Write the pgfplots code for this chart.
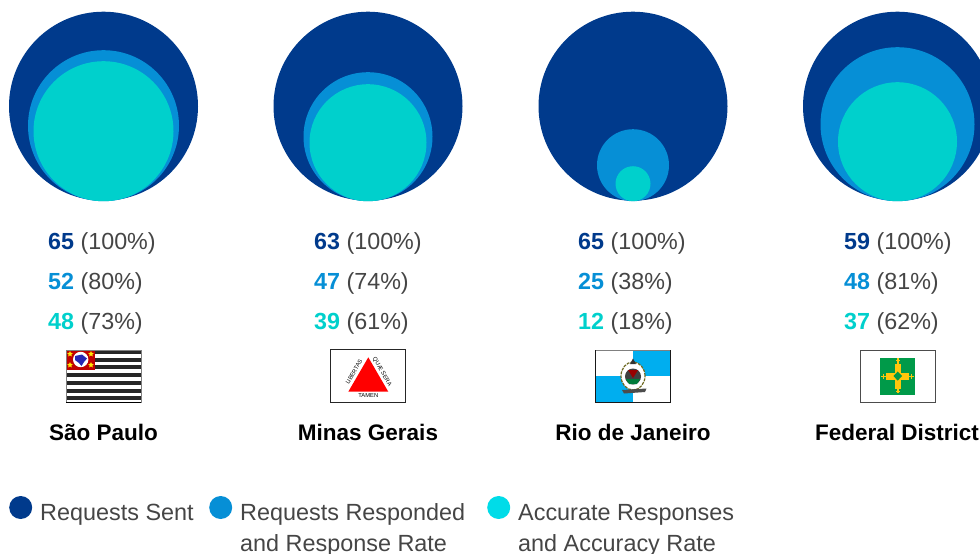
\documentclass[border=0pt]{standalone}
\usepackage{pgfplots}
\pgfplotsset{compat=1.18}
\usepackage{pgfplotstable}
\usepackage{fontspec}
\setmainfont{Liberation Sans}
\usetikzlibrary{shapes.geometric}
\definecolor{cA}{HTML}{003A8C}
\definecolor{cB}{HTML}{068FD6}
\definecolor{cC}{HTML}{00D0CC}
\definecolor{cL}{HTML}{00DCE8}
\definecolor{txt}{HTML}{454545}
\definecolor{rjblue}{HTML}{00AEEF}
\definecolor{dfg}{HTML}{009A49}
\definecolor{dfy}{HTML}{FFC60B}
\pgfplotstableread{
x y r
103.5 106.2 94.5
368 106.2 94.5
633 106.2 94.5
897.5 106.2 94.5
20.7 507.5 11.5
}\sent
\pgfplotstableread{
x y r
103.5 125.7 75.5
368 136.7 64.5
633 165.2 36
897.5 124.2 77
220.7 507.5 11.5
}\responded
\pgfplotstableread{
x y r
103.5 131.2 70
368 142.7 58.5
633 183.7 17.5
897.5 141.7 59.5
}\accurate
\pgfplotstableread{
x y r
498.7 507.5 11.5
}\accleg
\newcommand{\row}[5]{\node[anchor=base west,inner sep=0pt,text=txt,font=\fontsize{23.3}{24}\selectfont] at (#1,#2) {\textcolor{#3}{\textbf{#4}} (#5\%)};}
\newcommand{\city}[2]{\node[anchor=base,inner sep=0pt,text=black,font=\fontsize{22.5}{24}\selectfont\bfseries] at (#1,440.7) {#2};}
\newcommand{\leg}[3]{\node[anchor=base west,inner sep=0pt,text=txt,font=\fontsize{23.4}{24}\selectfont] at (#1,#2) {#3};}
\newcommand{\spstripe}[1]{\fill[black!85] (66,#1) rectangle (141,#1+3.9);}
\newcommand{\spstar}[2]{\node[star,star points=5,star point ratio=2.1,fill=yellow!90!orange,minimum size=6pt,inner sep=0pt] at (#1,#2) {};}
\pgfplotsset{bub/.style={scatter,only marks,mark=*,point meta=y,
  scatter/use mapped color={draw opacity=0,fill=#1},
  visualization depends on={\thisrow{r}\as\rad},
  scatter/@pre marker code/.append style={/tikz/mark size=\rad}}}
\begin{document}
\begin{tikzpicture}
\begin{axis}[width=980pt,height=554pt,scale only axis,xmin=0,xmax=980,ymin=0,ymax=554,y dir=reverse,hide axis]
\addplot[bub=cA] table[x=x,y=y] {\sent};
\addplot[bub=cB] table[x=x,y=y] {\responded};
\addplot[bub=cC] table[x=x,y=y] {\accurate};
\addplot[bub=cL] table[x=x,y=y] {\accleg};
\row{48}{249.3}{cA}{65}{100}
\row{48}{289.3}{cB}{52}{80}
\row{48}{329.3}{cC}{48}{73}
\row{314}{249.3}{cA}{63}{100}
\row{314}{289.3}{cB}{47}{74}
\row{314}{329.3}{cC}{39}{61}
\row{578}{249.3}{cA}{65}{100}
\row{578}{289.3}{cB}{25}{38}
\row{578}{329.3}{cC}{12}{18}
\row{844}{249.3}{cA}{59}{100}
\row{844}{289.3}{cB}{48}{81}
\row{844}{329.3}{cC}{37}{62}
\city{103.5}{São Paulo}
\city{368}{Minas Gerais}
\city{633}{Rio de Janeiro}
\city{897}{Federal District}
\leg{40}{520}{Requests Sent}
\leg{240}{520}{Requests Responded}
\leg{240}{551.5}{and Response Rate}
\leg{518}{520}{Accurate Responses}
\leg{518}{551.5}{and Accuracy Rate}
% Sao Paulo flag
\fill[white] (66,350) rectangle (141,402.5);
\spstripe{350}\spstripe{357.6}\spstripe{365.4}\spstripe{373.1}\spstripe{380.9}\spstripe{388.7}\spstripe{396.4}
\draw[black!50,line width=.8pt] (66,402.5) -- (66,350) -- (141,350) -- (141,402.5);
\draw[black,line width=.8pt] (66,402.5) -- (141,402.5);
\fill[red!75!black] (66.5,350.5) rectangle (95,370);
\fill[white] (80.7,359.5) circle[radius=7.7pt];
\fill[blue!65!black!85!white] (75,356) -- (82,354.5) -- (87,358.5) -- (84,362) -- (81.5,366) -- (79,363) -- (75,360) -- cycle;
\spstar{70}{354}\spstar{91}{354}\spstar{70}{365}\spstar{91}{365}
% Minas flag
\draw[black!85,fill=white,line width=.9pt] (330.8,349.8) rectangle (405.6,402.2);
\fill[red] (368.3,357.3) -- (388.3,391.7) -- (348.3,391.7) -- cycle;
\node[rotate=60,font=\fontsize{5.8}{6}\selectfont,inner sep=0pt,text=black] at (354,372) {LIBERTAS};
\node[rotate=-60,font=\fontsize{5.8}{6}\selectfont,inner sep=0pt,text=black] at (382,372) {QUÆ SERA};
\node[font=\fontsize{5.8}{6}\selectfont,inner sep=0pt,text=black] at (368.3,395.7) {TAMEN};
% Rio flag
\fill[white] (595.5,350) rectangle (670.5,402.5);
\fill[rjblue] (633,350) rectangle (670.5,376);
\fill[rjblue] (595.5,376) rectangle (633,402.5);
\draw[black!50,line width=.8pt] (595.5,350) -- (670.5,350);
\draw[black!90,line width=.8pt] (670.5,350) -- (670.5,402.5) -- (595.5,402.5) -- (595.5,350);
\fill[white] (633,376) ellipse[x radius=12pt,y radius=14pt];
\draw[olive!70!black,line width=1.2pt,dashed,dash pattern=on 3pt off 1pt] (633,376) ellipse[x radius=12pt,y radius=14pt];
\fill[black!75] (633,376.5) circle[radius=8pt];
\fill[red!60!black] (628,370) -- (638,370) -- (633,378) -- cycle;
\fill[dfg!80!black] (625.8,379) -- (640.2,379) -- (637,384) -- (629,384) -- cycle;
\fill[black!80] (633,358.5) -- (636,364) -- (630,364) -- cycle;
\fill[black!70] (622,390) -- (646.5,388.5) -- (645,392) -- (624,393.5) -- cycle;
% DF flag
\draw[black!70,fill=white,line width=.9pt] (860,350) rectangle (935.5,402);
\fill[dfg] (880,357.7) rectangle (915,395);
\fill[dfy] (895,364) rectangle (900.5,388.5);
\fill[dfy] (886,373) rectangle (909,379.5);
\fill[dfy] (897,358.3) rectangle (898.5,393);
\fill[dfy] (881,375.5) rectangle (914,377);
\fill[dfy] (895.8,360) rectangle (899.7,361.3);
\fill[dfy] (895.8,391) rectangle (899.7,392.3);
\fill[dfy] (883,373.8) rectangle (884.3,378.7);
\fill[dfy] (911,373.8) rectangle (912.3,378.7);
\fill[dfg] (897.7,371.5) -- (902,376) -- (897.7,380.7) -- (893.5,376) -- cycle;
\end{axis}
\pgfresetboundingbox
\path[use as bounding box] (0,0) rectangle (980pt,554pt);
\end{tikzpicture}
\end{document}
